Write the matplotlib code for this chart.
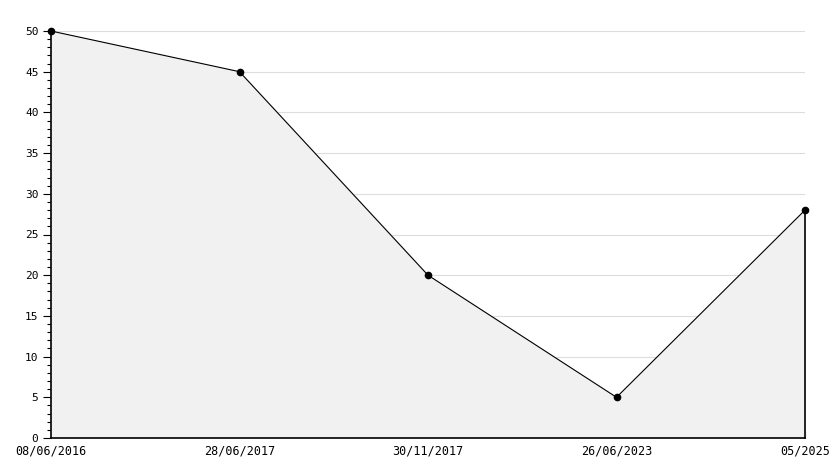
import numpy as np
import matplotlib
matplotlib.use("Agg")
import matplotlib.pyplot as plt
from matplotlib.ticker import MultipleLocator

plt.rcParams['font.family'] = ['DejaVu Sans Mono']

# data
dates = ["08/06/2016", "28/06/2017", "30/11/2017", "26/06/2023", "05/2025"]
values = [50, 45, 20, 5, 28]

x = np.arange(len(dates))

fig = plt.figure(figsize=(8.34, 4.68), dpi=100)
ax = fig.add_axes([51/834, 30/468, (805-51)/834, (438-31)/468])

ax.fill_between(x, values, 0, color="#f1f1f1", zorder=1)
ax.plot(x, values, color="black", lw=0.8, marker="o", markersize=4.5,
        zorder=3, clip_on=False)
ax.plot([x[-1], x[-1]], [0, values[-1]], color="black", lw=1.2, zorder=3,
        clip_on=False)

ax.set_xlim(x[0], x[-1])
ax.set_ylim(0, 50)
ax.yaxis.set_major_locator(MultipleLocator(5))
ax.yaxis.set_minor_locator(MultipleLocator(1))
ax.grid(axis="y", which="major", color="#dddddd", lw=0.8, zorder=0)
ax.set_axisbelow(True)

ax.set_xticks(x)
ax.set_xticklabels(dates)
ax.tick_params(axis="x", direction="in", length=5, width=0.8, labelsize=8.5, pad=4.5)
ax.tick_params(axis="y", which="major", direction="out", length=6, width=0.8, labelsize=8, pad=3)
ax.tick_params(axis="y", which="minor", direction="out", length=3, width=0.8)

for s in ["top", "right"]:
    ax.spines[s].set_visible(False)
for s in ["left", "bottom"]:
    ax.spines[s].set_linewidth(1.2)

fig.savefig("out.png", dpi=100)
